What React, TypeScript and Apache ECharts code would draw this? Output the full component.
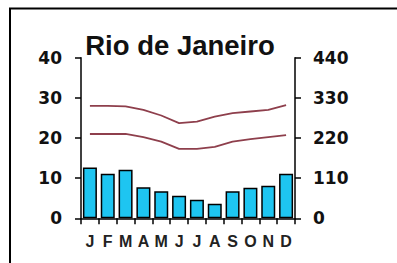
import React, { useEffect, useRef } from "react";
import * as echarts from "echarts";

const months = ["J", "F", "M", "A", "M", "J", "J", "A", "S", "O", "N", "D"];
const precipitation = [139, 122, 133, 85, 74, 62, 51, 40, 74, 84, 89, 122];
const maxTemp = [28.0, 28.0, 27.9, 27.0, 25.6, 23.7, 24.1, 25.3, 26.2, 26.6, 27.0, 28.2];
const minTemp = [21.0, 21.0, 21.0, 20.2, 19.1, 17.3, 17.3, 17.8, 19.1, 19.7, 20.2, 20.7];
const title = "Rio de Janeiro";

const FONT = "'Liberation Sans', Arial, sans-serif";
const NUMFONT = "'DejaVu Sans', sans-serif";

export default function App() {
  const ref = useRef<HTMLDivElement>(null);
  useEffect(() => {
    document.body.style.margin = "0";
    const chart = echarts.init(ref.current!, null, { renderer: "svg" });
    const axisNum = { color: "#111", fontSize: 17, fontFamily: NUMFONT, fontWeight: "bold" as const };
    chart.setOption({
      animation: false,
      backgroundColor: "#fff",
      title: {
        text: title,
        left: 175,
        top: 26,
        textAlign: "center",
        textStyle: { fontSize: 27.5, fontWeight: "bold", color: "#111", fontFamily: FONT },
      },
      graphic: [
        {
          type: "rect",
          shape: { x: 10, y: 8.5, width: 600, height: 600 },
          style: { fill: "none", stroke: "#000", lineWidth: 2 },
          silent: true,
        },
      ],
      grid: { left: 81, right: 102, top: 57.7, bottom: 44.7 },
      xAxis: {
        type: "category",
        data: months,
        axisLine: { lineStyle: { color: "#000", width: 1.5 } },
        axisTick: { show: true, length: 6, lineStyle: { color: "#000", width: 1.5 } },
        axisLabel: { margin: 15, color: "#222", fontSize: 16, fontWeight: "bold", fontFamily: FONT },
      },
      yAxis: [
        {
          type: "value",
          min: 0,
          max: 40,
          interval: 10,
          position: "left",
          splitLine: { show: false },
          axisLine: { show: true, lineStyle: { color: "#000", width: 1.5 } },
          axisTick: { show: true, length: 6, lineStyle: { color: "#000", width: 1.5 } },
          axisLabel: { ...axisNum, margin: 19 },
        },
        {
          type: "value",
          min: 0,
          max: 440,
          interval: 110,
          position: "right",
          splitLine: { show: false },
          axisLine: { show: true, lineStyle: { color: "#000", width: 1.5 } },
          axisTick: { show: true, length: 6, lineStyle: { color: "#000", width: 1.5 } },
          axisLabel: { ...axisNum, margin: 18 },
        },
      ],
      series: [
        {
          type: "bar",
          yAxisIndex: 1,
          data: precipitation,
          barWidth: 14,
          itemStyle: { color: "#1ec5f1", borderColor: "#000", borderWidth: 1.5 },
        },
        {
          type: "line",
          yAxisIndex: 0,
          data: maxTemp,
          symbol: "none",
          lineStyle: { color: "#8e3f4c", width: 1.8 },
        },
        {
          type: "line",
          yAxisIndex: 0,
          data: minTemp,
          symbol: "none",
          lineStyle: { color: "#8e3f4c", width: 1.8 },
        },
      ],
    });
    return () => chart.dispose();
  }, []);
  return (
    <div
      ref={ref}
      style={{ position: "fixed", left: 0, top: 0, width: 397, height: 263 }}
    />
  );
}
